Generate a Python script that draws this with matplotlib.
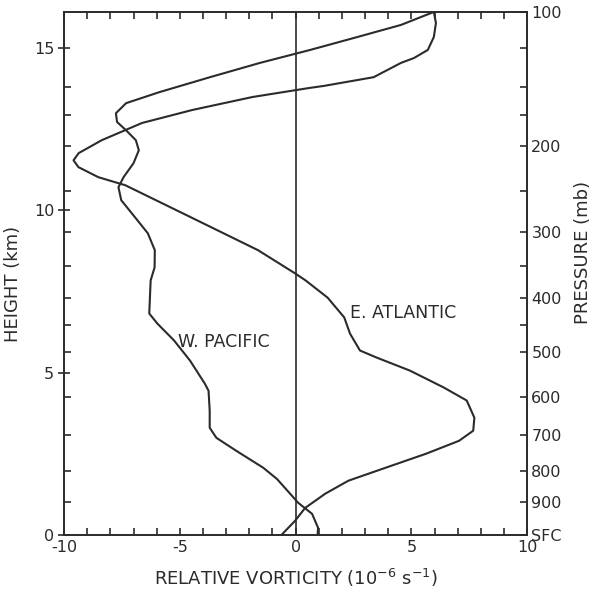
import matplotlib
matplotlib.use("Agg")
import matplotlib.pyplot as plt

# vertical profiles of relative vorticity (1e-6 s^-1) against height (km)
wpac_vort = [5.97, 4.55, 2.68, 0.63, -1.54, -3.7, -5.88, -7.32, -7.76, -7.71,
             -7.33, -6.9, -6.77, -7.0, -7.43, -7.65, -7.53, -6.93, -6.38, -6.08,
             -6.09, -6.26, -6.32, -5.97, -5.25, -4.56, -3.92, -3.76, -3.71, -3.71,
             -3.42, -2.56, -1.4, -0.8, 0.11, 0.71, 0.97, 0.95]
wpac_hgt = [16.11, 15.71, 15.34, 14.94, 14.54, 14.1, 13.64, 13.3, 12.99, 12.72,
            12.47, 12.16, 11.85, 11.45, 11.02, 10.71, 10.31, 9.78, 9.29, 8.77,
            8.24, 7.84, 6.82, 6.51, 5.99, 5.37, 4.66, 4.44, 3.83, 3.3,
            2.99, 2.59, 2.07, 1.72, 0.99, 0.65, 0.22, 0.0]

eatl_vort = [5.97, 6.06, 5.97, 5.71, 5.11, 4.55, 3.37, 1.21, 0.61, -1.86,
             -4.46, -6.63, -8.37, -9.37, -9.59, -9.38, -8.52, -7.35, -4.51, -1.62,
             -0.03, 0.43, 1.38, 2.1, 2.35, 2.78, 3.51, 4.94, 6.4, 7.39,
             7.72, 7.67, 7.06, 5.63, 3.89, 2.28, 1.28, 0.41, -0.03, -0.61]
eatl_hgt = [16.11, 15.77, 15.34, 14.94, 14.69, 14.54, 14.1, 13.83, 13.77, 13.49,
            13.09, 12.69, 12.16, 11.76, 11.54, 11.33, 11.02, 10.77, 9.78, 8.77,
            8.06, 7.84, 7.31, 6.7, 6.2, 5.68, 5.46, 5.06, 4.54, 4.14,
            3.61, 3.21, 2.9, 2.5, 2.07, 1.67, 1.27, 0.83, 0.43, 0.0]

# pressure levels on the right axis and their heights
p_major_lbl = ["100", "200", "300", "400", "500", "600", "700", "800", "900", "SFC"]
p_major_hgt = [16.11, 11.98, 9.32, 7.31, 5.62, 4.26, 3.09, 1.98, 1.02, 0.0]
p_minor_hgt = [15.0, 13.8, 12.93, 10.59, 8.27, 6.48]

ink = "#2b2b2b"
tfs = 11.5

fig = plt.figure(figsize=(5.93, 5.97), dpi=100)
ax = fig.add_axes([0.108, 0.104, 0.781, 0.876])

ax.plot(wpac_vort, wpac_hgt, color=ink, lw=1.5)
ax.plot(eatl_vort, eatl_hgt, color=ink, lw=1.5)
ax.axvline(0, color=ink, lw=1.2)

ax.set_xlim(-10, 10)
ax.set_ylim(0, 16.11)
ax.set_xticks([-10, -5, 0, 5, 10])
ax.set_xticklabels(["-10", "-5", "0", "5", "10"])
ax.set_xticks(range(-10, 11), minor=True)
ax.set_yticks([0, 5, 10, 15])
ax.set_yticks(p_major_hgt[1:-1] + p_minor_hgt[1:], minor=True)

for s in ax.spines.values():
    s.set_color(ink)
    s.set_linewidth(1.4)

ax.tick_params(axis="x", which="both", direction="in", length=5, width=1.2,
               color=ink, top=True, labelsize=tfs, labelcolor=ink, pad=4)
ax.tick_params(axis="y", which="major", direction="inout", length=8, width=1.2,
               color=ink, labelsize=tfs, labelcolor=ink, pad=3)
ax.tick_params(axis="y", which="minor", direction="in", length=5, width=1.2,
               color=ink)

ax.set_xlabel("RELATIVE VORTICITY (10$^{-6}$ s$^{-1}$)", fontsize=13,
              color=ink, labelpad=8)
ax.set_ylabel("HEIGHT (km)", fontsize=13, color=ink)
ax.yaxis.set_label_coords(-0.09, 0.48)

ax2 = ax.twinx()
ax2.set_ylim(ax.get_ylim())
ax2.set_yticks(p_major_hgt)
ax2.set_yticklabels(p_major_lbl)
ax2.set_yticks(p_minor_hgt, minor=True)
ax2.tick_params(axis="y", which="both", direction="in", length=5, width=1.2,
                color=ink, labelsize=tfs, labelcolor=ink, pad=3)
ax2.set_ylabel("PRESSURE (mb)", fontsize=13, color=ink)
ax2.yaxis.set_label_coords(1.102, 0.54)
for s in ax2.spines.values():
    s.set_visible(False)

ax.text(-5.1, 5.93, "W. PACIFIC", fontsize=12.5, color=ink, va="center")
ax.text(2.36, 6.85, "E. ATLANTIC", fontsize=12.5, color=ink, va="center")

fig.savefig("out.png", dpi=100, facecolor="white")
